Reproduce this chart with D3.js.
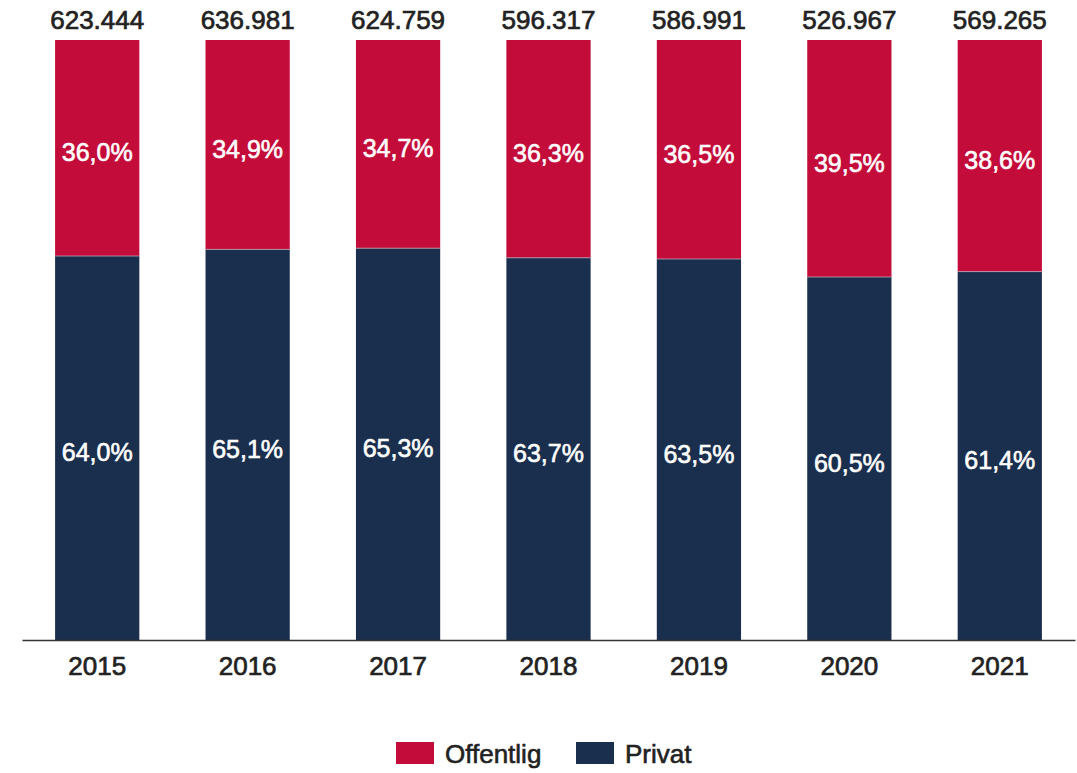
<!DOCTYPE html>
<html>
<head>
<meta charset="utf-8">
<script src="https://cdn.jsdelivr.net/npm/d3@7"></script>
<style>
body { margin: 0; background: #fff; }
text { font-family: "Liberation Sans", Arial, sans-serif; }
</style>
</head>
<body>
<svg id="chart" width="1077" height="773"></svg>
<script>
// data
var years = ["2015", "2016", "2017", "2018", "2019", "2020", "2021"];
var totals = ["623.444", "636.981", "624.759", "596.317", "586.991", "526.967", "569.265"];
var privat = [64.0, 65.1, 65.3, 63.7, 63.5, 60.5, 61.4];
var offentlig = [36.0, 34.9, 34.7, 36.3, 36.5, 39.5, 38.6];
var seriesNames = ["Offentlig", "Privat"];

var red = "#c40c3b", navy = "#1a2e4d";

var svg = d3.select("#chart");

var x = d3.scaleBand().domain(years).range([22, 1075]).paddingInner(0.44).paddingOuter(0.22);
var y = d3.scaleLinear().domain([0, 100]).range([640, 40]);

var fmt = function(v){ return v.toFixed(1).replace(".", ",") + "%"; };

var rows = years.map(function(yr, i){
	return {year: yr, total: totals[i], privat: privat[i], offentlig: offentlig[i]};
});

// bars
var g = svg.selectAll(".bar").data(rows).enter()
	.append("g").attr("class", "bar")
	;
g.append("rect")
	.attr("x", function(d){ return x(d.year); })
	.attr("width", x.bandwidth())
	.attr("y", function(d){ return y(d.privat); })
	.attr("height", function(d){ return y(0) - y(d.privat); })
	.attr("fill", navy)
	;
g.append("rect")
	.attr("x", function(d){ return x(d.year); })
	.attr("width", x.bandwidth())
	.attr("y", function(d){ return y(d.privat + d.offentlig); })
	.attr("height", function(d){ return y(d.privat) - y(d.privat + d.offentlig); })
	.attr("fill", red)
	;
// thin separator between segments
g.append("line")
	.attr("x1", function(d){ return x(d.year); })
	.attr("x2", function(d){ return x(d.year) + x.bandwidth(); })
	.attr("y1", function(d){ return y(d.privat); })
	.attr("y2", function(d){ return y(d.privat); })
	.attr("stroke", "#b9a6b4").attr("stroke-width", 0.8)
	;

// segment labels
g.append("text")
	.attr("x", function(d){ return x(d.year) + x.bandwidth()/2; })
	.attr("y", function(d){ return (y(d.privat) + y(0))/2 + 4; })
	.attr("text-anchor", "middle").attr("dominant-baseline", "central")
	.attr("fill", "#fff").attr("stroke", "#fff").attr("stroke-width", 0.6)
	.style("font-size", "25px")
	.text(function(d){ return fmt(d.privat); })
	;
g.append("text")
	.attr("x", function(d){ return x(d.year) + x.bandwidth()/2; })
	.attr("y", function(d){ return (y(d.privat) + y(100))/2 + 4; })
	.attr("text-anchor", "middle").attr("dominant-baseline", "central")
	.attr("fill", "#fff").attr("stroke", "#fff").attr("stroke-width", 0.6)
	.style("font-size", "25px")
	.text(function(d){ return fmt(d.offentlig); })
	;
// totals on top
g.append("text")
	.attr("x", function(d){ return x(d.year) + x.bandwidth()/2; })
	.attr("y", 29)
	.attr("text-anchor", "middle")
	.attr("fill", "#222").attr("stroke", "#222").attr("stroke-width", 0.7)
	.style("font-size", "26px")
	.text(function(d){ return d.total; })
	;

// x axis
var xAxis = svg.append("g")
	.attr("transform", "translate(0," + y(0) + ")")
	.call(d3.axisBottom(x).tickSize(0).tickPadding(17))
	;
xAxis.select(".domain").attr("stroke", "#333").attr("stroke-width", 1.3);
xAxis.selectAll(".tick text")
	.attr("fill", "#222").attr("stroke", "#222").attr("stroke-width", 0.7)
	.style("font-size", "26px")
	.style("font-family", "'Liberation Sans', Arial, sans-serif")
	;

// legend
var legend = svg.append("g").attr("class", "legend");
var lx = [396, 576];
var lg = legend.selectAll("g").data(seriesNames).enter()
	.append("g")
	.attr("transform", function(d, i){ return "translate(" + lx[i] + ",742)"; })
	;
lg.append("rect")
	.attr("width", 38).attr("height", 22)
	.attr("fill", function(d, i){ return i == 0 ? red : navy; })
	;
lg.append("text")
	.attr("x", 49).attr("y", 21)
	.attr("fill", "#222").attr("stroke", "#222").attr("stroke-width", 0.6)
	.style("font-size", "26px")
	.text(function(d){ return d; })
	;
</script>
</body>
</html>
